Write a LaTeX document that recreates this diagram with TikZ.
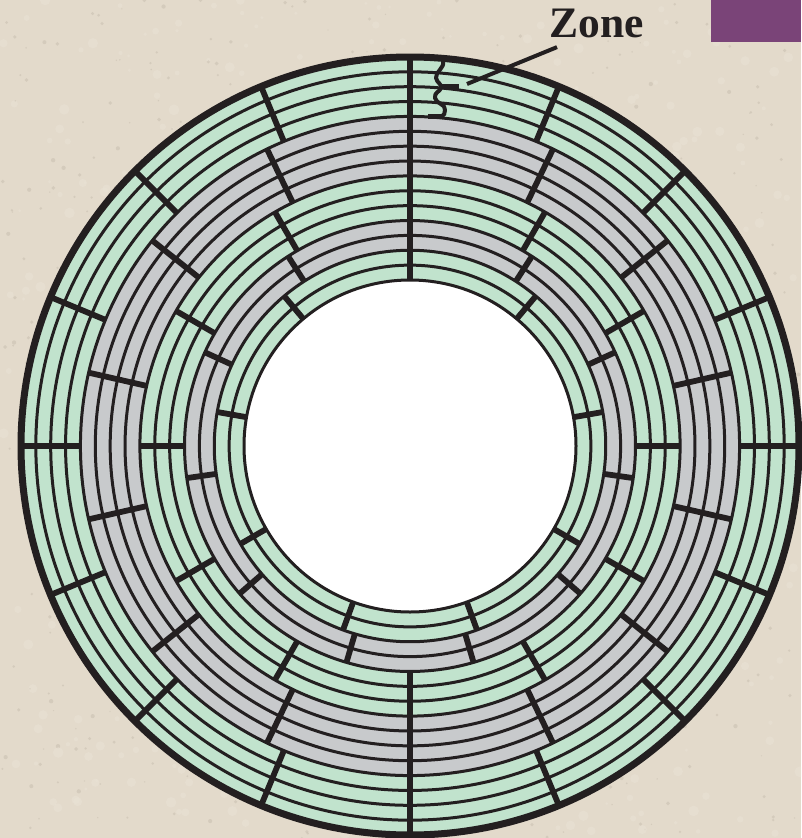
\documentclass[tikz,border=0pt]{standalone}
\usepackage{fontspec}
\setmainfont{Liberation Serif}
\usetikzlibrary{calc}
\definecolor{paper}{HTML}{E3DACB}
\definecolor{speckA}{HTML}{C9BFB0}
\definecolor{speckB}{HTML}{E9E2D5}
\definecolor{plum}{HTML}{7A4478}
\definecolor{mint}{HTML}{C1E3CD}
\definecolor{silver}{HTML}{C8CACC}
\definecolor{ink}{HTML}{231F20}
\tikzset{
  track/.style={draw=ink,line width=3pt},
  spoke/.style={draw=ink,line width=5.8pt},
  rim/.style={draw=ink,line width=7pt},
  leader/.style={draw=ink,line width=4pt},
  brace/.style={draw=ink,line width=4pt,line cap=round,line join=round},
  tick/.style={draw=ink,line width=5pt},
  zonelabel/.style={font=\bfseries\fontsize{43.5}{44}\selectfont,text=ink,inner sep=0pt,anchor=base west}
}
\pgfmathsetseed{4711}
% ring of spokes: count, first k, last k
\newcommand{\spokes}[3]{%
  \pgfmathsetmacro{\stepa}{360/#1}%
  \pgfmathsetmacro{\ra}{166+14.87*#2}%
  \pgfmathsetmacro{\rb}{166+14.87*#3}%
  \foreach \i in {1,...,#1}{%
    \pgfmathsetmacro{\ang}{90+\i*\stepa}%
    \draw[spoke] ($(c)+(\ang:\ra pt)$) -- ($(c)+(\ang:\rb pt)$);
  }}
\newcommand{\zonefill}[2]{%
  \pgfmathsetmacro{\rz}{166+14.87*#2}%
  \fill[#1] (c) circle[radius=\rz pt];}
\begin{document}
\begin{tikzpicture}[x=1pt,y=-1pt]
\useasboundingbox (0,0) rectangle (801,838);
\fill[paper] (0,0) rectangle (801,838);
\begin{scope}
\clip (0,0) rectangle (801,838);
\foreach \i in {1,...,600}{
  \pgfmathsetmacro{\px}{rnd*801}
  \pgfmathsetmacro{\py}{rnd*838}
  \pgfmathsetmacro{\pr}{0.6+rnd*1.6}
  \fill[speckA,opacity=.55] (\px,\py) circle[radius=\pr pt];
  \pgfmathsetmacro{\px}{rnd*801}
  \pgfmathsetmacro{\py}{rnd*838}
  \pgfmathsetmacro{\pr}{1.5+rnd*4}
  \fill[speckB,opacity=.5] (\px,\py) circle[radius=\pr pt];
}
\end{scope}
\fill[plum] (711,0) rectangle (801,42);
\coordinate (c) at (410,446);
% zones, outside in
\fill[mint] (c) circle[radius=389pt];
\zonefill{silver}{11}
\zonefill{mint}{7}
\zonefill{silver}{4}
\zonefill{mint}{2}
% tracks
\foreach \k in {1,...,14}{
  \pgfmathsetmacro{\rt}{166+14.87*\k}
  \draw[track] (c) circle[radius=\rt pt];
}
\fill[white] (c) circle[radius=166pt];
\draw[ink,line width=3pt] (c) circle[radius=166pt];
% sector dividers per zone
\spokes{16}{11}{15}
\spokes{14}{7}{11}
\spokes{12}{4}{7}
\spokes{11}{2}{4}
\spokes{9}{0}{2}
\draw[rim] (c) circle[radius=389pt];
% zone marker
\draw[brace] (443,61) .. controls (445,68) and (435,72) .. (436,78)
  .. controls (437,83) and (442,84) .. (441,88)
  .. controls (440,92) and (434,92) .. (435,98)
  .. controls (436,104) and (446,104) .. (445,110)
  .. controls (445,113) and (444,116) .. (442,116);
\coordinate (tickA) at (441,86.5);
\coordinate (tickB) at (459,86.5);
\coordinate (tickC) at (444,116);
\coordinate (tickD) at (428,116);
\draw[tick] (tickA) -- (tickB);
\draw[tick] (tickC) -- (tickD);
\node[zonelabel] (zone) at (549.5,37) {Zone};
\coordinate (zonetip) at (467,84);
\draw[leader] (zone.south west) ++(7.5,9.5) -- (zonetip);
\end{tikzpicture}
\end{document}
